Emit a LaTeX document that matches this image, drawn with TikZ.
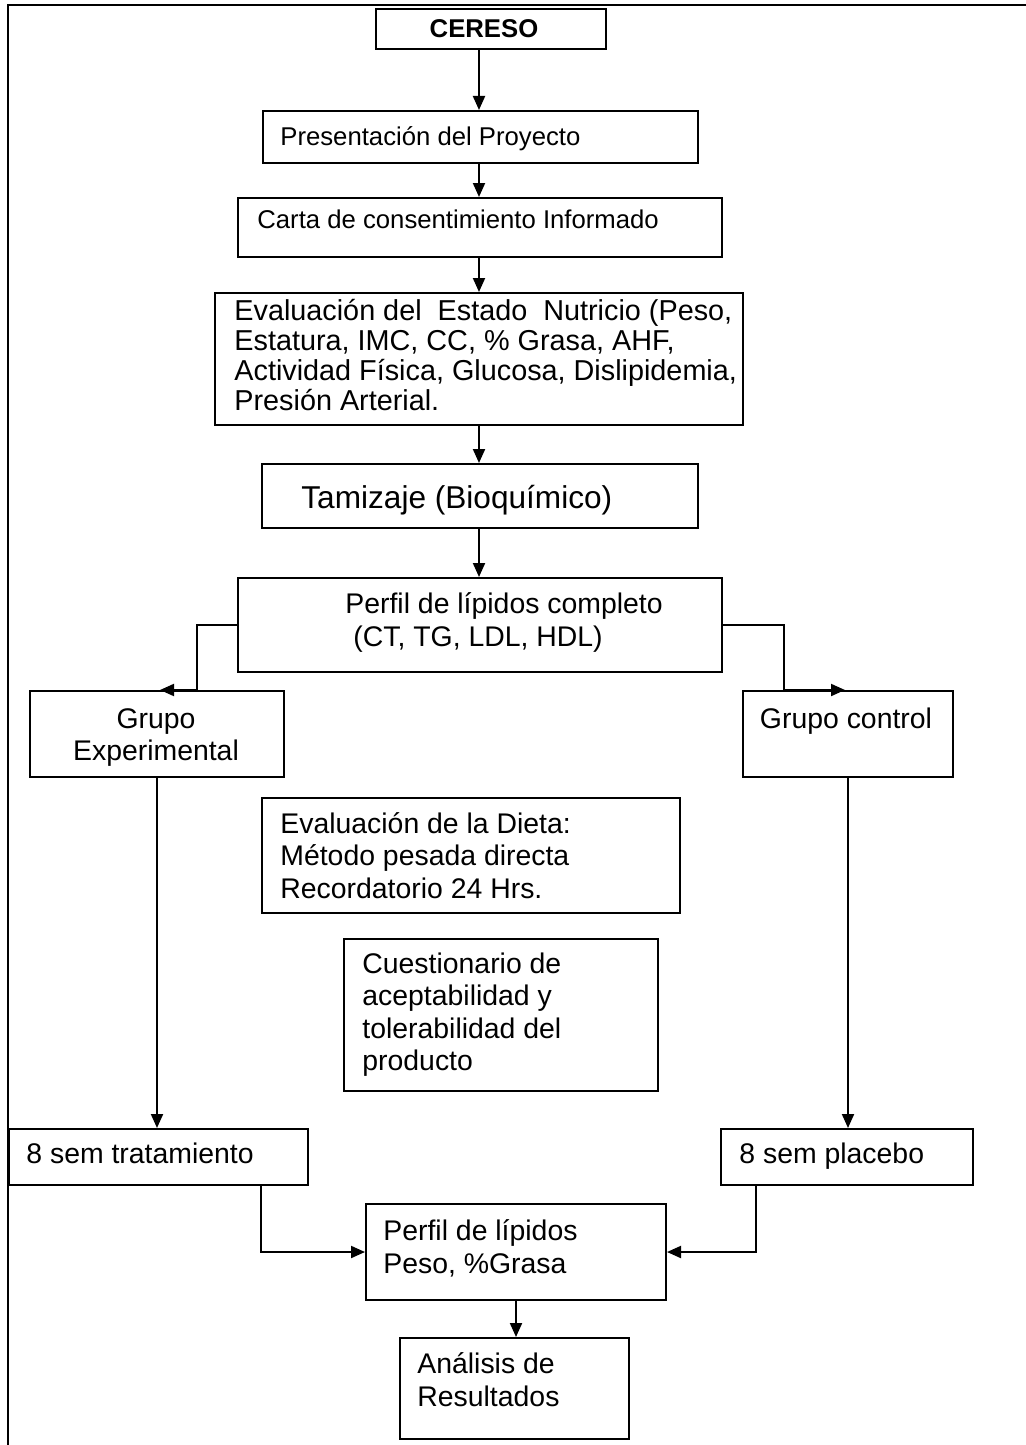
\documentclass[tikz,border=0pt]{standalone}
\usepackage{fontspec}
\setmainfont{Liberation Sans}
\usetikzlibrary{arrows.meta}
\newcommand\fsz[2]{\fontsize{#1}{#2}\selectfont}
\begin{document}
\begin{tikzpicture}[x=0.5pt,y=-0.5pt,
  box/.style={draw, line width=1pt, inner sep=0, anchor=north west},
  txt/.style={anchor=base west, inner sep=0, font=\fsz{14.2}{16.4}},
  ctxt/.style={anchor=base, inner sep=0, font=\fsz{14.2}{16.4}},
  arr/.style={line width=1pt, -{Triangle[length=7pt,width=6pt]}},
  lin/.style={line width=1pt}]
\useasboundingbox (0,0) rectangle (1026,1445);
\fill[white] (0,0) rectangle (1026,1445);
% frame
\draw[lin] (1026,5) -- (8,5) -- (8,1445);
% boxes
\node[box, minimum width=115pt, minimum height=20pt] (cereso) at (375,8) {};
\node[box, minimum width=217.5pt, minimum height=26pt] (pres) at (262,110) {};
\node[box, minimum width=242pt, minimum height=29.5pt] (carta) at (237,197) {};
\node[box, minimum width=264pt, minimum height=66pt] (evalu) at (214,292) {};
\node[box, minimum width=218pt, minimum height=32pt] (tamiz) at (261,463) {};
\node[box, minimum width=242pt, minimum height=47pt] (perfil) at (237,577) {};
\node[box, minimum width=127pt, minimum height=43pt] (gexp) at (29,690) {};
\node[box, minimum width=105pt, minimum height=43pt] (gcon) at (742,690) {};
\node[box, minimum width=209pt, minimum height=57.5pt] (dieta) at (261,797) {};
\node[box, minimum width=157pt, minimum height=76pt] (cuest) at (343,938) {};
\node[box, minimum width=149.5pt, minimum height=28pt] (trat) at (8,1128) {};
\node[box, minimum width=126pt, minimum height=28pt] (plac) at (720,1128) {};
\node[box, minimum width=150pt, minimum height=48pt] (perfil2) at (365,1203) {};
\node[box, minimum width=114.5pt, minimum height=50.5pt] (anal) at (399,1337) {};
% texts
\node[ctxt, font=\bfseries\fsz{12.85}{15}] (t-cereso) at (484,38) {CERESO};
\node[txt, font=\fsz{12.85}{15}] (t-pres) at (280,146) {Presentación del Proyecto};
\node[txt, font=\fsz{12.85}{15}] (t-carta) at (257,228) {Carta de consentimiento Informado};
\node[txt] (t-evalu) at (234,320) {\parbox[t]{300pt}{\raggedright\fsz{14.4}{15}Evaluación del\ \ Estado\ \ Nutricio (Peso,\\Estatura, IMC, CC, \% Grasa, AHF,\\Actividad Física, Glucosa, Dislipidemia,\\Presión Arterial.}};
\node[txt, font=\fsz{15.8}{18}] (t-tamiz) at (301,508) {Tamizaje (Bioquímico)};
\node[txt] (t-perfil) at (345,613) {\parbox[t]{300pt}{\raggedright\fsz{14.2}{16.5}Perfil de lípidos completo\\\hspace*{4pt}(CT, TG, LDL, HDL)}};
\node[ctxt] (t-gexp) at (156,728) {\parbox[t]{125pt}{\centering\fsz{14.2}{16}Grupo\\Experimental}};
\node[ctxt] (t-gcon) at (846,728) {Grupo control};
\node[txt] (t-dieta) at (280,833) {\parbox[t]{200pt}{\raggedright\fsz{14.2}{16.25}Evaluación de la Dieta:\\Método pesada directa\\Recordatorio 24 Hrs.}};
\node[txt] (t-cuest) at (362,973) {\parbox[t]{150pt}{\raggedright\fsz{14.2}{16.3}Cuestionario de\\aceptabilidad y\\tolerabilidad del\\producto}};
\node[txt] (t-trat) at (26,1163) {8 sem tratamiento};
\node[txt] (t-plac) at (739,1163) {8 sem placebo};
\node[txt] (t-perfil2) at (383,1240) {\parbox[t]{140pt}{\raggedright\fsz{14.2}{16.5}Perfil de lípidos\\Peso, \%Grasa}};
\node[txt] (t-anal) at (417,1373) {\parbox[t]{110pt}{\raggedright\fsz{14.2}{16.5}Análisis de\\Resultados}};
% connectors
\coordinate (ax) at (479,0);
\coordinate (lb) at (197,690);
\coordinate (gexptip) at (160,690);
\coordinate (rb) at (784,690);
\coordinate (gcontip) at (845,690);
\coordinate (tx) at (261,0);
\coordinate (px) at (756,0);
\draw[arr] (cereso.south -| ax) -- (pres.north -| ax);
\draw[arr] (pres.south -| ax) -- (carta.north -| ax);
\draw[arr] (carta.south -| ax) -- (evalu.north -| ax);
\draw[arr] (evalu.south -| ax) -- (tamiz.north -| ax);
\draw[arr] (tamiz.south -| ax) -- (perfil.north -| ax);
\draw[arr] (perfil.west) -| (lb) -- (gexptip);
\draw[arr] (perfil.east) -| (rb) -- (gcontip);
\draw[arr] (gexp.south) -- (trat.north -| gexp.south);
\draw[arr] (gcon.south) -- (plac.north -| gcon.south);
\draw[arr] (trat.south -| tx) |- (perfil2.west);
\draw[arr] (plac.south -| px) |- (perfil2.east);
\draw[arr] (perfil2.south) -- (anal.north -| perfil2.south);
\end{tikzpicture}
\end{document}
